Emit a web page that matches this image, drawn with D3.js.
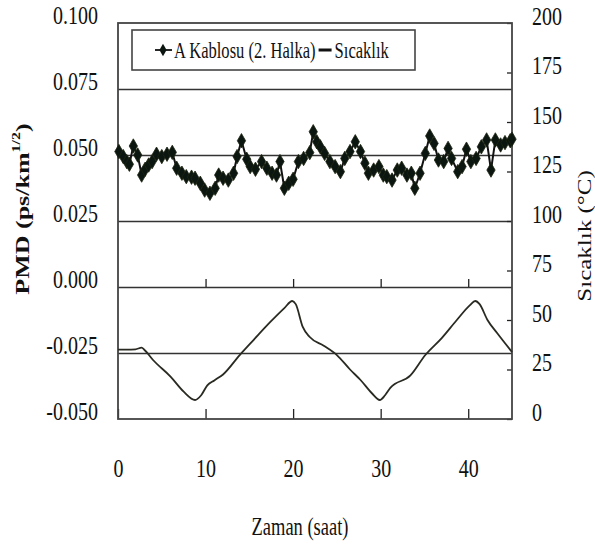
<!DOCTYPE html>
<html>
<head>
<meta charset="utf-8">
<script src="https://cdn.jsdelivr.net/npm/d3@7"></script>
<style>
  html, body { margin: 0; padding: 0; background: #fff; }
  svg { display: block; }
  svg text { font-family: "Liberation Serif", "Times New Roman", serif; }
</style>
</head>
<body>
<svg id="chart" width="595" height="544"></svg>
<script>
// time (h) and PMD readings for cable A, ring 2
const pmdTime = [0.1, 0.6, 1.0, 1.3, 1.75, 2.25, 2.7, 3.1, 3.5, 3.9, 4.4, 5.0, 5.6, 6.2, 6.7, 7.3, 7.8, 8.4, 8.8, 9.4, 9.9, 10.5, 11.1, 11.5, 12.0, 12.6, 13.2, 13.6, 14.1, 14.7,
  15.1, 15.7, 16.4, 17.0, 17.6, 18.1, 18.5, 19.0, 19.5, 20.0, 20.6, 21.2, 21.9, 22.3, 22.7, 23.1, 23.6, 24.2, 24.8, 25.4, 25.9, 26.5, 27.1, 27.7, 28.2, 28.6, 29.2, 29.8, 30.3,
  30.7, 31.3, 31.9, 32.4, 33.0, 33.5, 33.9, 34.5, 35.1, 35.6, 36.1, 36.6, 37.2, 37.7, 38.1, 38.8, 39.3, 39.8, 40.3, 40.9, 41.5, 42.1, 42.6, 43.1, 43.7, 44.2, 44.8, 45.0];
const pmdValues = [0.0513, 0.0494, 0.0475, 0.0465, 0.0534, 0.0500, 0.0424, 0.0446, 0.0462, 0.0475, 0.0503, 0.0494, 0.0503, 0.0510, 0.0450, 0.0431, 0.0418, 0.0416, 0.0412, 0.0393, 0.0367, 0.0355, 0.0374, 0.0424, 0.0412, 0.0405, 0.0431, 0.0494, 0.0554, 0.0484,
  0.0456, 0.0446, 0.0475, 0.0450, 0.0431, 0.0424, 0.0475, 0.0374, 0.0393, 0.0408, 0.0475, 0.0487, 0.0509, 0.0588, 0.0550, 0.0531, 0.0506, 0.0475, 0.0456, 0.0437, 0.0487, 0.0513, 0.0550, 0.0513, 0.0469, 0.0431, 0.0443, 0.0456, 0.0424,
  0.0418, 0.0405, 0.0443, 0.0450, 0.0424, 0.0431, 0.0374, 0.0431, 0.0506, 0.0572, 0.0544, 0.0481, 0.0475, 0.0525, 0.0487, 0.0437, 0.0456, 0.0522, 0.0475, 0.0487, 0.0531, 0.0557, 0.0443, 0.0557, 0.0538, 0.0547, 0.0554, 0.0560];

// time (h) and temperature readings
const tempTime = [0, 1, 2, 2.7, 3.0, 4, 6, 7.5, 8.8, 9.5, 10.2, 11, 12, 13.9, 15.5, 17.4, 19, 19.9, 20.3, 21.1, 21.9, 23.5, 25, 26.5, 27.7, 29, 29.9,
  30.5, 31.1, 33.4, 35.1, 37, 38.7, 40.2, 40.8, 41.3, 42.2, 43.3, 45];
const tempValues = [35, 35, 35.2, 36, 35, 29.8, 21.4, 13.8, 9.6, 12, 17, 19.5, 22.5, 32.3, 40, 49, 56, 59.6, 58, 46.5, 41.4, 37, 32.3, 25, 19.7, 13, 9.6,
  12, 15.7, 22, 32.3, 41, 50, 57.5, 59.6, 58, 50, 43.4, 33.8];

const pmdTicks = [0.100, 0.075, 0.050, 0.025, 0.000, -0.025, -0.050];
const gridTicks = [0.075, 0.050, 0.025, 0.000, -0.025];
const tempTicks = [0, 25, 50, 75, 100, 125, 150, 175, 200];
const timeTicks = [0, 10, 20, 30, 40];

const seriesNames = ["A Kablosu (2. Halka)", "Sıcaklık"];
const xTitle = "Zaman (saat)";
const yTitleRight = "Sıcaklık (°C)";

const margin = { top: 23, right: 83, bottom: 125, left: 118 };
const W = 595, H = 544;
const width = W - margin.left - margin.right;
const height = H - margin.top - margin.bottom;
const SX = 0.8;   // the source text is horizontally squeezed
const FONT = "'Liberation Serif', 'Times New Roman', serif";
const ink = "#222";

const svg = d3.select("#chart");
const g = svg.append("g").attr("transform", `translate(${margin.left},${margin.top})`);

const x = d3.scaleLinear().domain([0, 45]).range([0, width]);
const yL = d3.scaleLinear().domain([-0.05, 0.1]).range([height, 0]);
const yR = d3.scaleLinear().domain([0, 200]).range([height, 0]);

// grid lines
g.append("g")
  .call(d3.axisLeft(yL).tickValues(gridTicks).tickSize(-width).tickFormat(""))
  .call(s => s.select(".domain").remove())
  .call(s => s.selectAll("line").attr("stroke", "#333").attr("stroke-width", 1.6));

// ticks on the zero line, pointing up
g.append("g")
  .attr("transform", `translate(0,${yL(0)})`)
  .call(d3.axisTop(x).tickValues([10, 20, 30, 40]).tickSize(8).tickFormat(""))
  .call(s => s.select(".domain").remove())
  .call(s => s.selectAll("line").attr("stroke", ink).attr("stroke-width", 1.3));

// bottom axis
const xAxis = g.append("g")
  .attr("transform", `translate(0,${height})`)
  .call(d3.axisBottom(x).tickValues(timeTicks).tickSizeInner(-10).tickSizeOuter(0).tickPadding(40).tickFormat(d3.format("d")))
  .call(s => s.select(".domain").remove())
  .attr("font-family", FONT).attr("font-size", 25);
xAxis.selectAll("line").attr("stroke", ink).attr("stroke-width", 1.3);
xAxis.selectAll("text")
  .attr("fill", "#111")
  .attr("transform", `scale(${SX},1)`);

// left axis labels (plain hyphen for negatives, as in the source)
const pmdFormat = d => d3.format(".3f")(d).replace("−", "-");
const yAxisL = g.append("g")
  .call(d3.axisLeft(yL).tickValues(pmdTicks).tickSize(0).tickFormat(pmdFormat))
  .call(s => s.select(".domain").remove())
  .attr("font-family", FONT).attr("font-size", 25);
yAxisL.selectAll("text")
  .attr("fill", "#111")
  .attr("x", 0).attr("dy", "0.32em")
  .attr("transform", `translate(-20,-8) scale(${SX},1)`);

// right axis
const yAxisR = g.append("g")
  .attr("transform", `translate(${width},0)`)
  .call(d3.axisRight(yR).tickValues(tempTicks).tickSizeInner(-5).tickSizeOuter(0))
  .call(s => s.select(".domain").remove())
  .attr("font-family", FONT).attr("font-size", 25);
yAxisR.selectAll("line").attr("stroke", ink).attr("stroke-width", 1.3);
yAxisR.selectAll("text")
  .attr("fill", "#111")
  .attr("x", 0).attr("dy", "0.32em")
  .attr("transform", `translate(20,-7) scale(${SX},1)`);

// plot frame
g.append("rect")
  .attr("width", width).attr("height", height)
  .attr("fill", "none").attr("stroke", "#444").attr("stroke-width", 1.8);

// temperature line
const tempData = tempTime.map((t, i) => ({ t, v: tempValues[i] }));
g.append("path")
  .datum(tempData)
  .attr("fill", "none")
  .attr("stroke", "#2a2a22")
  .attr("stroke-width", 1.8)
  .attr("d", d3.line().x(d => x(d.t)).y(d => yR(d.v)).curve(d3.curveMonotoneX));

// PMD line with diamond markers
const pmdData = pmdTime.map((t, i) => ({ t, v: pmdValues[i] }));
g.append("path")
  .datum(pmdData)
  .attr("fill", "none")
  .attr("stroke", "#111")
  .attr("stroke-width", 2)
  .attr("d", d3.line().x(d => x(d.t)).y(d => yL(d.v)));

const diamond = d3.symbol().type(d3.symbolDiamond).size(60);
g.append("g").selectAll("path")
  .data(pmdData)
  .join("path")
  .attr("transform", d => `translate(${x(d.t)},${yL(d.v)})`)
  .attr("d", diamond)
  .attr("fill", "#0c1610")
  .attr("stroke", "#1c2410")
  .attr("stroke-width", 0.8);

// legend
const legend = svg.append("g").attr("transform", "translate(132,30)");
legend.append("rect")
  .attr("width", 283).attr("height", 40)
  .attr("fill", "#fff").attr("stroke", "#444").attr("stroke-width", 1.6);

const LS = 0.72;
const ly = 20;
legend.append("line").attr("x1", 23).attr("x2", 40).attr("y1", ly).attr("y2", ly)
  .attr("stroke", "#111").attr("stroke-width", 1.8);
legend.append("path").attr("transform", `translate(31,${ly})`)
  .attr("d", d3.symbol().type(d3.symbolDiamond).size(45)).attr("fill", "#0c1610");
const t1 = legend.append("text")
  .attr("transform", `translate(42,${ly}) scale(${LS},1)`)
  .attr("dy", "0.33em").attr("font-size", 23).attr("fill", "#111")
  .text(seriesNames[0]);
const x2 = 42 + t1.node().getComputedTextLength() * LS + 3;
legend.append("line").attr("x1", x2).attr("x2", x2 + 13).attr("y1", ly).attr("y2", ly)
  .attr("stroke", "#111").attr("stroke-width", 3);
legend.append("text")
  .attr("transform", `translate(${x2 + 16},${ly}) scale(${LS},1)`)
  .attr("dy", "0.33em").attr("font-size", 23).attr("fill", "#111")
  .text(seriesNames[1]);

// axis titles
svg.append("text")
  .attr("transform", `translate(300,527) scale(0.74,1)`)
  .attr("text-anchor", "middle").attr("dy", "0.33em")
  .attr("font-size", 25).attr("fill", "#111")
  .text(xTitle);

const yTitleL = svg.append("text")
  .attr("transform", `translate(22,209) scale(0.75,1) rotate(-90)`)
  .attr("text-anchor", "middle").attr("dy", "0.35em")
  .attr("font-size", 26).attr("font-weight", "bold").attr("fill", "#111");
yTitleL.append("tspan").text("PMD (ps/km");
yTitleL.append("tspan").attr("font-size", 16).attr("dy", "-0.7em").text("1/2");
yTitleL.append("tspan").attr("dy", "0.45em").text(")");

svg.append("text")
  .attr("transform", `translate(584,236) scale(0.75,1) rotate(-90)`)
  .attr("text-anchor", "middle").attr("dy", "0.35em")
  .attr("font-size", 25).attr("fill", "#111")
  .text(yTitleRight);
</script>
</body>
</html>
